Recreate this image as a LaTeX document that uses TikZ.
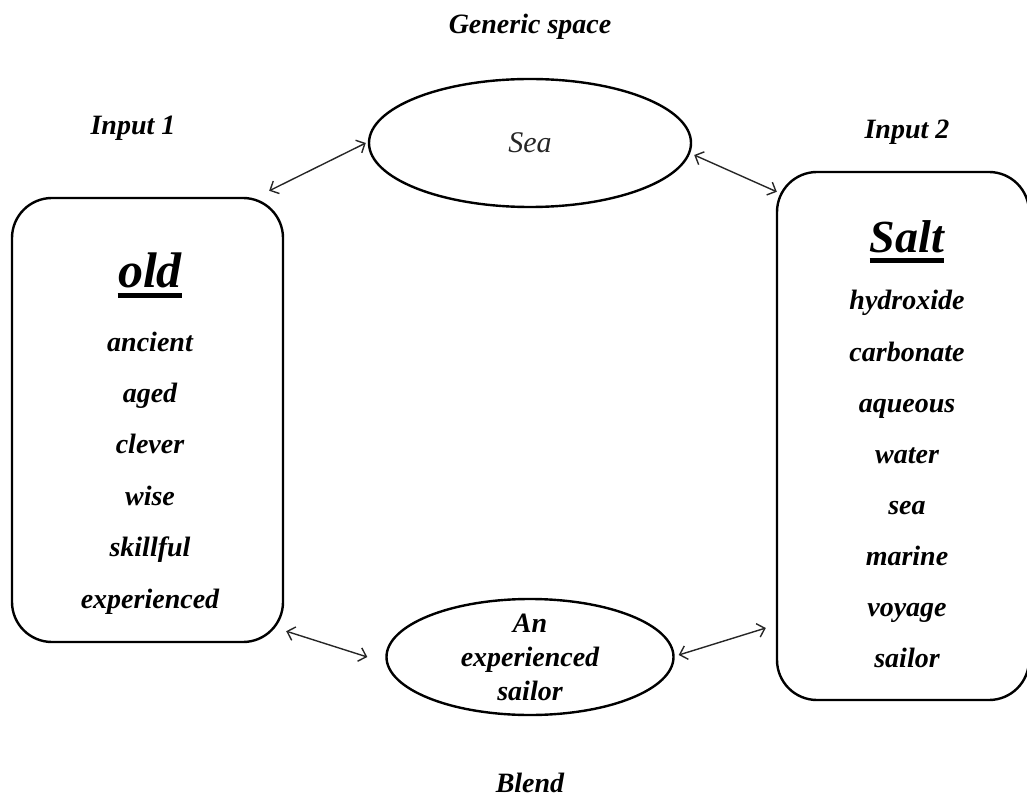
\documentclass[tikz,border=0pt]{standalone}
\usepackage{fontspec}
\setmainfont{Liberation Serif}
\usetikzlibrary{shapes.geometric, arrows.meta}

\tikzset{
  frame/.style={draw, line width=1.2pt, rounded corners=20pt},
  space/.style={draw, ellipse, line width=1.2pt, inner sep=0pt},
  word/.style={font=\fontsize{14}{17}\selectfont\bfseries\itshape, inner sep=0pt},
  item/.style={word, anchor=base},
  head/.style={font=\fontsize{25}{30}\selectfont\bfseries\itshape, inner sep=0pt, anchor=base},
  link/.style={{Straight Barb[length=3.5pt,width=7pt]}-{Straight Barb[length=3.5pt,width=7pt]}, line width=0.7pt, draw=black!85},
}

\begin{document}
\begin{tikzpicture}[x=0.5pt, y=-0.5pt]
        \useasboundingbox (0,0) rectangle (1027,796);

        % Titles of the four spaces
        \node[word] (gentitle) at (530,27) {Generic space};
        \node[word] (onetitle) at (133,128) {Input 1};
        \node[word] (twotitle) at (907,132) {Input 2};
        \node[word] (blendtitle) at (530,783) {Blend};

        % Generic space
        \node[space, minimum width=161pt, minimum height=64pt] (sea) at (530,143) {};
        \node[font=\fontsize{15}{17}\selectfont\itshape, text=black!85] (seatext) at (sea.center) {Sea};

        % Input 1
        \node[frame, minimum width=135.5pt, minimum height=222pt] (inone) at (147.5,420) {};
        \node[head] (old) at (150,288) {old};
        \draw[line width=2.5pt] ([yshift=-4pt]old.base west) -- ([yshift=-4pt]old.base east);
        \foreach \w [count=\i] in {ancient, aged, clever, wise, skillful, experienced} {
            \node[item] (old\i) at (150,{351+(\i-1)*51.4}) {\w};
        }

        % Input 2
        \node[frame, minimum width=126pt, minimum height=264pt] (intwo) at (903,436) {};
        \node[head, font=\fontsize{23}{28}\selectfont\bfseries\itshape] (salt) at (907,253) {Salt};
        \draw[line width=2.5pt] ([yshift=-4pt]salt.base west) -- ([yshift=-4pt]salt.base east);
        \foreach \w [count=\i] in {hydroxide, carbonate, aqueous, water, sea, marine, voyage, sailor} {
            \node[item] (salt\i) at (907,{310+(\i-1)*51.1}) {\w};
        }

        % Blend
        \node[space, minimum width=143.5pt, minimum height=58pt] (blend) at (530,657) {};
        \node[word, align=center] (blendtext) at (blend.center) {An\\experienced\\sailor};

        % Connectors
        \draw[link] ([shift={(-15,-6)}]inone.north east) -- ([shift={(-2,0)}]sea.west);
        \draw[link] ([shift={(2,12)}]sea.east) -- ([shift={(1,21)}]intwo.north west);
        \draw[link] ([shift={(2,-12)}]inone.south east) -- ([shift={(-18,0)}]blend.west);
        \draw[link] ([shift={(4,-2)}]blend.east) -- ([shift={(-10,192)}]intwo.west);

    \end{tikzpicture}
\end{document}
